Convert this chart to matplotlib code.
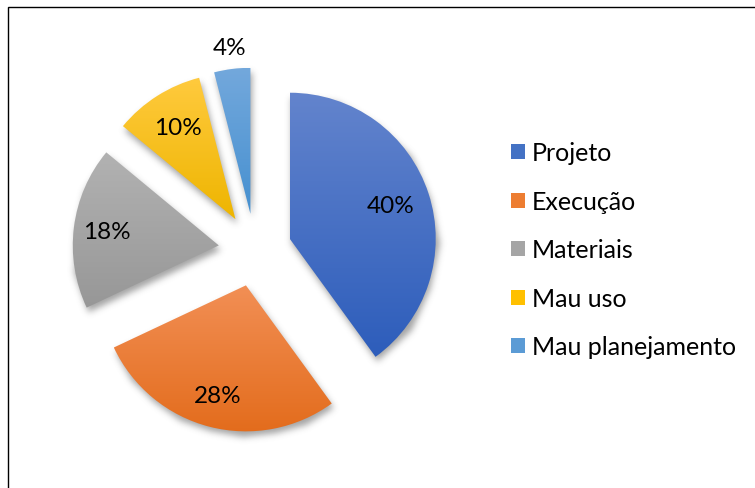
import numpy as np
import matplotlib
matplotlib.use("Agg")
import matplotlib.pyplot as plt
from matplotlib.colors import LinearSegmentedColormap, to_rgb
from matplotlib.patches import Rectangle, Patch

categories = ["Projeto", "Execução", "Materiais", "Mau uso", "Mau planejamento"]
values = [40, 28, 18, 10, 4]
labels = ["40%", "28%", "18%", "10%", "4%"]

# (top, bottom) colours of the vertical gradient in each slice
top_colors = ["#6384cd", "#f28f55", "#b2b2b2", "#ffca3e", "#73a8dc"]
bottom_colors = ["#2d5dbb", "#e36c1c", "#979797", "#eeb500", "#4690d0"]
legend_colors = ["#4472c4", "#ed7d31", "#a5a5a5", "#ffc000", "#5b9bd5"]
label_dist = [0.73, 0.78, 0.77, 0.74, 1.15]
explode = 0.25

plt.rcParams["font.family"] = ["Lato", "DejaVu Sans"]

W, H = 755, 489
fig = plt.figure(figsize=(W / 100, H / 100), dpi=100)
fig.patch.set_facecolor("white")

# outer frame, runs off the right and bottom edges
fig.patches.append(Rectangle((8 / W, -0.1), 1.2, (H - 8) / H + 0.1,
                             transform=fig.transFigure, fill=False,
                             edgecolor="black", linewidth=1.0))

lim = 1.6
r_px = 146
side = 2 * lim * r_px
ax = fig.add_axes([(255 - side / 2) / W, (H - 251 - side / 2) / H, side / W, side / H])
wedges, _ = ax.pie(values, startangle=90, counterclock=False,
                   explode=[explode] * len(values), radius=1.0)
ax.set_xlim(-lim, lim)
ax.set_ylim(-lim, lim)
ax.axis("off")

# soft drop shadow under all slices
n = 700
gx = np.linspace(-lim, lim, n)
XX, YY = np.meshgrid(gx, gx)
pts = np.column_stack([XX.ravel(), YY.ravel()])
mask = np.zeros(n * n, dtype=float)
for w in wedges:
    p = w.get_path().transformed(w.get_patch_transform())
    mask[p.contains_points(pts)] = 1.0
mask = mask.reshape(n, n)

sigma = 5.0
k = np.arange(-15, 16)
kern = np.exp(-k ** 2 / (2 * sigma ** 2))
kern /= kern.sum()
blur = np.apply_along_axis(lambda r: np.convolve(r, kern, mode="same"), 1, mask)
blur = np.apply_along_axis(lambda c: np.convolve(c, kern, mode="same"), 0, blur)
shadow = np.zeros((n, n, 4))
shadow[..., :3] = 0.35
shadow[..., 3] = blur * 0.55
dx, dy = 0.012, -0.03
ax.imshow(shadow, extent=(-lim + dx, lim + dx, -lim + dy, lim + dy),
          origin="lower", zorder=0.5, interpolation="bilinear")

# gradient fill clipped to each slice
for w, c0, c1 in zip(wedges, top_colors, bottom_colors):
    w.set_facecolor("none")
    w.set_edgecolor("none")
    p = w.get_path().transformed(w.get_patch_transform())
    x0, y0 = p.vertices.min(axis=0)
    x1, y1 = p.vertices.max(axis=0)
    cmap = LinearSegmentedColormap.from_list("g", [to_rgb(c1), to_rgb(c0)])
    grad = np.linspace(0, 1, 256).reshape(-1, 1)
    im = ax.imshow(grad, cmap=cmap, extent=(x0, x1, y0, y1), origin="lower",
                   aspect="auto", zorder=1, interpolation="bilinear")
    im.set_clip_path(w)

# percentage labels
for w, lab, d in zip(wedges, labels, label_dist):
    mid = np.deg2rad((w.theta1 + w.theta2) / 2)
    cx, cy = w.center
    ax.text(cx + d * np.cos(mid), cy + d * np.sin(mid), lab,
            ha="center", va="center", fontsize=17.5, color="black", zorder=3)
ax.set_xlim(-lim, lim)
ax.set_ylim(-lim, lim)

handles = [Patch(facecolor=c, edgecolor="none") for c in legend_colors]
fig.legend(handles, categories, loc="center left",
           bbox_to_anchor=(511 / W, 1 - 251 / H), frameon=False,
           fontsize=18, handlelength=0.55, handleheight=0.55,
           handletextpad=0.3, labelspacing=1.02, borderaxespad=0,
           borderpad=0)

fig.savefig("out.png", dpi=100)
